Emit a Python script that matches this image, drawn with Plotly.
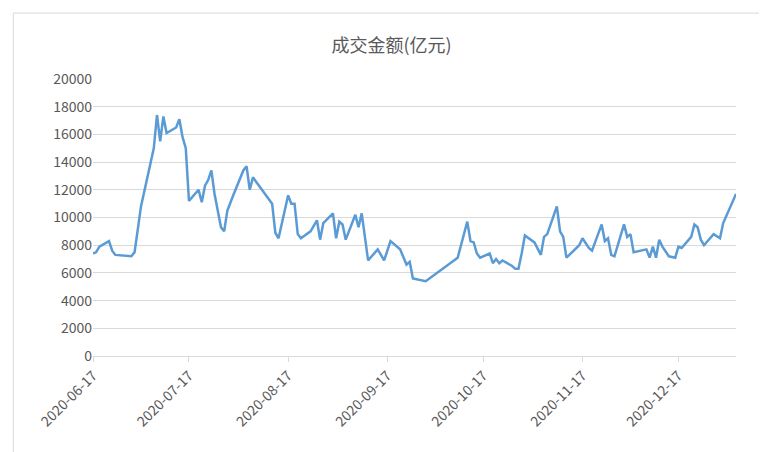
import plotly.graph_objects as go

# 成交金额 (亿元), values
dates = [
    "2020-06-17", "2020-06-18", "2020-06-19", "2020-06-22", "2020-06-23", "2020-06-24",
    "2020-06-29", "2020-06-30", "2020-07-02", "2020-07-03", "2020-07-06", "2020-07-07",
    "2020-07-08", "2020-07-09", "2020-07-10", "2020-07-13", "2020-07-14", "2020-07-15",
    "2020-07-16", "2020-07-17", "2020-07-20", "2020-07-21", "2020-07-22", "2020-07-23",
    "2020-07-24", "2020-07-25", "2020-07-27", "2020-07-28", "2020-07-29", "2020-07-31",
    "2020-08-03", "2020-08-04", "2020-08-05", "2020-08-06", "2020-08-10", "2020-08-12",
    "2020-08-13", "2020-08-14", "2020-08-17", "2020-08-18", "2020-08-19", "2020-08-20",
    "2020-08-21", "2020-08-24", "2020-08-26", "2020-08-27", "2020-08-28", "2020-08-31",
    "2020-09-01", "2020-09-02", "2020-09-03", "2020-09-04", "2020-09-07", "2020-09-08",
    "2020-09-09", "2020-09-11", "2020-09-14", "2020-09-16", "2020-09-18", "2020-09-21",
    "2020-09-23", "2020-09-24", "2020-09-25", "2020-09-29", "2020-10-09", "2020-10-12",
    "2020-10-13", "2020-10-14", "2020-10-15", "2020-10-16", "2020-10-19", "2020-10-20",
    "2020-10-21", "2020-10-22", "2020-10-23", "2020-10-26", "2020-10-27", "2020-10-28",
    "2020-10-29", "2020-10-30", "2020-11-02", "2020-11-03", "2020-11-04", "2020-11-05",
    "2020-11-06", "2020-11-09", "2020-11-10", "2020-11-11", "2020-11-12", "2020-11-16",
    "2020-11-17", "2020-11-19", "2020-11-20", "2020-11-23", "2020-11-24", "2020-11-25",
    "2020-11-26", "2020-11-27", "2020-11-30", "2020-12-01", "2020-12-02", "2020-12-03",
    "2020-12-07", "2020-12-08", "2020-12-09", "2020-12-10", "2020-12-11", "2020-12-12",
    "2020-12-14", "2020-12-16", "2020-12-17", "2020-12-18", "2020-12-21", "2020-12-22",
    "2020-12-23", "2020-12-24", "2020-12-25", "2020-12-28", "2020-12-30", "2020-12-31",
    "2021-01-04",
]
amounts = [
    7400, 7500, 7900, 8300, 7600, 7300,
    7200, 7500, 10800, 11800, 15000, 17400,
    15500, 17300, 16100, 16500, 17100, 15800,
    15000, 11200, 12000, 11100, 12300, 12700,
    13400, 11700, 9300, 9000, 10500, 11700,
    13400, 13700, 12000, 12900, 11600, 11000,
    8900, 8500, 11600, 11000, 11000, 8800,
    8500, 9000, 9800, 8400, 9600, 10300,
    8500, 9700, 9500, 8400, 10200, 9300,
    10300, 6900, 7700, 6900, 8300, 7700,
    6600, 6800, 5600, 5400, 7100, 9700,
    8300, 8200, 7400, 7100, 7400, 6700,
    7000, 6700, 6900, 6500, 6300, 6300,
    7400, 8700, 8200, 7800, 7300, 8600,
    8800, 10800, 9000, 8600, 7100, 8000,
    8500, 7800, 7600, 9500, 8300, 8500,
    7300, 7200, 9500, 8600, 8800, 7500,
    7700, 7100, 7900, 7100, 8400, 7900,
    7200, 7100, 7900, 7800, 8600, 9500,
    9300, 8400, 8000, 8800, 8500, 9600,
    11700,
]
tick_dates = ["2020-06-17", "2020-07-17", "2020-08-17", "2020-09-17",
              "2020-10-17", "2020-11-17", "2020-12-17"]

fig = go.Figure(go.Scatter(x=dates, y=amounts, mode="lines",
                           line=dict(color="#5B9BD5", width=2.5)))

fig.update_layout(
    width=767, height=452,
    title=dict(text="成交金额(亿元)", x=0.5, y=0.93, xanchor="center",
               font=dict(size=18, color="#595959")),
    font=dict(family="Noto Sans CJK SC, Noto Sans, sans-serif", size=14, color="#595959"),
    paper_bgcolor="white", plot_bgcolor="white",
    margin=dict(l=85, r=39, t=71, b=104, autoexpand=False),
    showlegend=False,
)
fig.update_xaxes(type="date", range=["2020-06-17", "2021-01-04"],
                 tickvals=tick_dates, ticktext=tick_dates, tickangle=-45,
                 showgrid=False, showline=True, linecolor="#D9D9D9",
                 ticks="outside", tickcolor="#D9D9D9", ticklen=5, automargin=False)
fig.update_yaxes(range=[0, 20000], dtick=2000, tickformat="d", showgrid=True,
                 gridcolor="#D9D9D9", zeroline=False, showline=False, ticks="",
                 automargin=False)
fig.add_shape(type="rect", xref="paper", yref="paper", x0=-0.124, y0=-0.357,
              x1=1.053, y1=1.238, line=dict(color="#D9D9D9", width=1))

fig.write_html("out.html")
